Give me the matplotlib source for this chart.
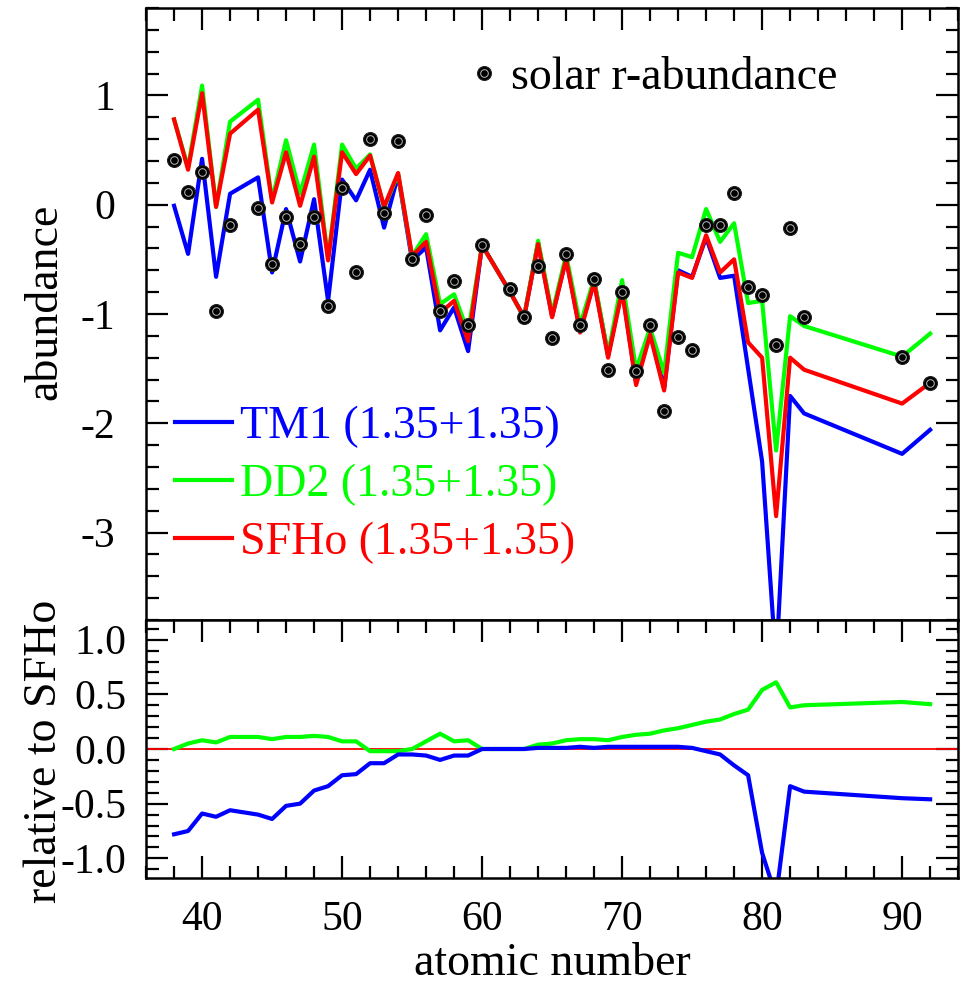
import matplotlib
matplotlib.use("Agg")
import matplotlib.pyplot as plt
from matplotlib.ticker import MultipleLocator, FormatStrFormatter
from matplotlib.legend_handler import HandlerTuple

plt.rcParams["font.family"] = ["Liberation Serif", "DejaVu Serif"]
plt.rcParams["axes.unicode_minus"] = False

# atomic numbers of the model curves
Z = [38, 39, 40, 41, 42, 44, 45, 46, 47, 48, 49, 50, 51, 52, 53, 54, 55, 56,
     57, 58, 59, 60, 62, 63, 64, 65, 66, 67, 68, 69, 70, 71, 72, 73, 74, 75,
     76, 77, 78, 79, 80, 81, 82, 83, 90, 92]

tm1 = [-0.01, -0.45, 0.42, -0.66, 0.10, 0.25, -0.62, -0.04, -0.52, 0.05,
       -0.88, 0.23, 0.04, 0.32, -0.21, 0.27, -0.51, -0.39, -1.15, -0.94,
       -1.34, -0.37, -0.80, -1.03, -0.35, -1.02, -0.49, -1.15, -0.70, -1.38,
       -0.77, -1.63, -1.17, -1.68, -0.60, -0.66, -0.30, -0.67, -0.65, -1.50,
       -2.35, -4.20, -1.75, -1.91, -2.28, -2.06]

dd2 = [0.78, 0.34, 1.09, -0.02, 0.76, 0.96, 0.04, 0.59, 0.10, 0.55,
       -0.50, 0.55, 0.33, 0.46, -0.03, 0.28, -0.47, -0.27, -0.91, -0.82,
       -1.17, -0.37, -0.80, -1.03, -0.33, -1.00, -0.46, -1.10, -0.68, -1.37,
       -0.69, -1.51, -1.13, -1.54, -0.44, -0.48, -0.04, -0.34, -0.17, -0.90,
       -0.88, -2.25, -1.02, -1.11, -1.39, -1.18]

sfho = [0.78, 0.32, 1.02, -0.02, 0.65, 0.87, 0.02, 0.48, -0.01, 0.44,
        -0.51, 0.48, 0.28, 0.45, -0.02, 0.29, -0.47, -0.34, -0.99, -0.88,
        -1.25, -0.37, -0.80, -1.03, -0.36, -1.03, -0.50, -1.17, -0.71, -1.40,
        -0.79, -1.65, -1.19, -1.70, -0.62, -0.67, -0.28, -0.62, -0.50, -1.26,
        -1.40, -2.85, -1.40, -1.51, -1.82, -1.63]

# solar r-process abundances
Z_sol = Z
solar = [0.41, 0.12, 0.30, -0.97, -0.19, -0.03, -0.54, -0.11, -0.36, -0.11,
         -0.93, 0.15, -0.62, 0.60, -0.08, 0.58, -0.50, -0.09, -0.97, -0.70,
         -1.10, -0.37, -0.77, -1.03, -0.56, -1.22, -0.45, -1.10, -0.68, -1.51,
         -0.80, -1.52, -1.10, -1.89, -1.21, -1.33, -0.19, -0.19, 0.11, -0.75,
         -0.83, -1.28, -0.21, -1.03, -1.39, -1.63]

# lower panel: log ratio relative to SFHo
rel_tm1 = [-0.78, -0.75, -0.59, -0.62, -0.56, -0.60, -0.64, -0.52, -0.50, -0.38,
           -0.34, -0.24, -0.23, -0.13, -0.13, -0.05, -0.05, -0.06, -0.10, -0.06,
           -0.06, 0.00, 0.00, 0.00, 0.01, 0.01, 0.01, 0.02, 0.01, 0.02,
           0.02, 0.02, 0.02, 0.02, 0.02, 0.01, -0.02, -0.05, -0.15, -0.24,
           -0.95, -1.35, -0.34, -0.39, -0.45, -0.46]
rel_dd2 = [0.00, 0.05, 0.08, 0.06, 0.11, 0.11, 0.09, 0.11, 0.11, 0.12,
           0.11, 0.07, 0.07, -0.02, -0.02, -0.02, 0.00, 0.07, 0.14, 0.07,
           0.08, 0.00, 0.00, 0.00, 0.04, 0.05, 0.08, 0.09, 0.09, 0.08,
           0.11, 0.13, 0.14, 0.17, 0.19, 0.22, 0.25, 0.27, 0.32, 0.36,
           0.54, 0.61, 0.38, 0.40, 0.43, 0.41]

BLUE, GREEN, RED = "#0000ff", "#00ff00", "#ff0000"
LW = 3.0
FS = 30      # tick labels
FL = 33      # axis labels and legends

fig = plt.figure(figsize=(9.61, 9.85), dpi=100)
ax1 = fig.add_axes([0.152, 0.3706, 0.845, 0.6213])
ax2 = fig.add_axes([0.152, 0.1086, 0.845, 0.262])

# upper panel
l_tm1, = ax1.plot(Z, tm1, color=BLUE, lw=LW)
l_dd2, = ax1.plot(Z, dd2, color=GREEN, lw=LW)
l_sfho, = ax1.plot(Z, sfho, color=RED, lw=LW)
p1, = ax1.plot(Z_sol, solar, "o", ms=10, mfc="black", mec="#222222", mew=0.8,
               ls="none", zorder=5)
p2, = ax1.plot(Z_sol, solar, "o", ms=5.5, mfc="none", mec="#bbbbbb", mew=0.7,
               ls="none", zorder=6)

ax1.set_xlim(36, 94)
ax1.set_ylim(-3.8, 1.8)
ax1.set_ylabel("abundance", fontsize=FL)
ax1.yaxis.set_label_coords(-0.098, 0.52)

leg1 = ax1.legend([l_tm1, l_dd2, l_sfho],
                  ["TM1 (1.35+1.35)", "DD2 (1.35+1.35)", "SFHo (1.35+1.35)"],
                  loc="upper left", bbox_to_anchor=(0.0357, 0.35),
                  frameon=False, fontsize=FL, handlelength=1.25,
                  handletextpad=0.17, labelspacing=0.34, borderpad=0,
                  borderaxespad=0, labelcolor="linecolor")
ax1.add_artist(leg1)
ax1.legend([(p1, p2)], ["solar r-abundance"], loc="upper left",
           bbox_to_anchor=(0.399, 0.92), frameon=False, fontsize=FL,
           handlelength=0.6, handletextpad=0.3, borderpad=0, borderaxespad=0,
           handler_map={tuple: HandlerTuple(ndivide=1)})

# lower panel
ax2.axhline(0.0, color=RED, lw=1.3)
ax2.plot(Z, rel_dd2, color=GREEN, lw=LW)
ax2.plot(Z, rel_tm1, color=BLUE, lw=LW)
ax2.set_xlim(36, 94)
ax2.set_ylim(-1.18, 1.18)
ax2.set_xlabel("atomic number", fontsize=FL, labelpad=3)
ax2.set_ylabel("relative to SFHo", fontsize=FL)
ax2.yaxis.set_label_coords(-0.098, 0.49)

for ax in (ax1, ax2):
    for s in ax.spines.values():
        s.set_linewidth(1.8)
    ax.xaxis.set_major_locator(MultipleLocator(10))
    ax.xaxis.set_minor_locator(MultipleLocator(2))
    ax.tick_params(which="both", direction="in", top=True, right=True,
                   width=1.6, labelsize=FS)
    ax.tick_params(which="major", length=16)
    ax.tick_params(which="minor", length=9)

ax1.yaxis.set_major_locator(MultipleLocator(1))
ax1.yaxis.set_minor_locator(MultipleLocator(0.2))
ax1.tick_params(axis="x", which="both", bottom=False, labelbottom=False)
ax1.tick_params(axis="y", pad=22)

ax2.yaxis.set_major_locator(MultipleLocator(0.5))
ax2.yaxis.set_minor_locator(MultipleLocator(0.1))
ax2.yaxis.set_major_formatter(FormatStrFormatter("%.1f"))
ax2.tick_params(axis="y", pad=14)
ax2.tick_params(axis="x", pad=16)

plt.savefig("out.png", dpi=100)
